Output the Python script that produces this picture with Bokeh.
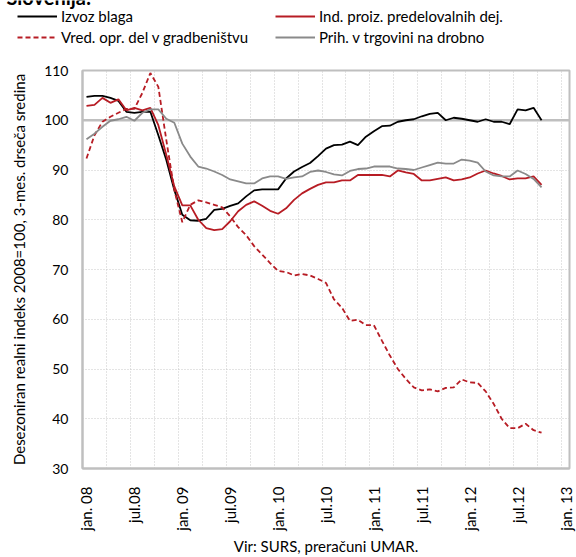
import math
from bokeh.plotting import figure
from bokeh.layouts import column
from bokeh.models import Range1d, FixedTicker, Legend, LegendItem, Span, ColumnDataSource, Label
from bokeh.embed import file_html
from bokeh.resources import INLINE

# ---------------- data ----------------
months = ["jan. 08", "feb.08", "mar.08", "apr.08", "maj.08", "jun.08", "jul.08", "avg.08", "sep.08", "okt.08", "nov.08", "dec.08",
          "jan. 09", "feb.09", "mar.09", "apr.09", "maj.09", "jun.09", "jul.09", "avg.09", "sep.09", "okt.09", "nov.09", "dec.09",
          "jan. 10", "feb.10", "mar.10", "apr.10", "maj.10", "jun.10", "jul.10", "avg.10", "sep.10", "okt.10", "nov.10", "dec.10",
          "jan. 11", "feb.11", "mar.11", "apr.11", "maj.11", "jun.11", "jul.11", "avg.11", "sep.11", "okt.11", "nov.11", "dec.11",
          "jan. 12", "feb.12", "mar.12", "apr.12", "maj.12", "jun.12", "jul.12", "avg.12", "sep.12", "okt.12"]

izvoz_blaga = [104.7, 104.9, 104.9, 104.5, 103.9, 101.7, 101.5, 101.7, 101.7, 97.0,
               92.0, 86.0, 81.0, 79.9, 79.8, 80.2, 82.0, 82.2, 82.8, 83.3,
               84.7, 85.9, 86.1, 86.1, 86.1, 88.3, 89.7, 90.6, 91.4, 92.8,
               94.3, 95.0, 95.1, 95.7, 95.0, 96.7, 97.8, 98.8, 98.9, 99.7,
               100.0, 100.2, 100.8, 101.3, 101.5, 100.0, 100.5, 100.3, 100.0, 99.7,
               100.2, 99.7, 99.7, 99.2, 102.2, 102.0, 102.5, 100.0]

ind_proiz = [102.9, 103.1, 104.5, 103.5, 104.2, 102.0, 102.5, 102.0, 102.5, 99.0,
             93.0, 86.7, 82.9, 82.9, 80.0, 78.3, 77.9, 78.1, 79.7, 81.7,
             83.0, 83.7, 82.8, 81.8, 81.2, 82.3, 84.0, 85.3, 86.2, 87.0,
             87.5, 87.5, 87.9, 87.9, 89.0, 89.0, 89.0, 89.0, 88.7, 89.9,
             89.5, 89.2, 87.9, 87.9, 88.2, 88.5, 87.9, 88.1, 88.5, 89.3,
             89.9, 89.3, 88.8, 88.1, 88.3, 88.3, 88.7, 87.0]

vred_gradb = [92.3, 97.0, 99.7, 100.7, 101.5, 102.3, 102.3, 105.5, 109.5, 106.7,
              96.0, 86.0, 79.5, 83.0, 83.9, 83.5, 83.0, 82.5, 80.7, 78.5,
              76.9, 74.7, 73.0, 71.3, 69.7, 69.5, 68.8, 69.1, 68.8, 68.1,
              67.3, 64.0, 62.3, 59.7, 59.9, 58.8, 58.8, 55.7, 52.7, 50.0,
              48.0, 46.3, 45.7, 45.9, 45.5, 46.2, 46.3, 47.9, 47.3, 47.2,
              45.5, 43.0, 40.0, 38.1, 38.1, 39.0, 37.7, 37.2]

prih_trg = [96.2, 97.3, 98.7, 99.9, 100.2, 100.7, 99.9, 101.5, 102.2, 102.2,
            100.3, 99.5, 95.3, 92.7, 90.7, 90.3, 89.7, 89.0, 88.1, 87.7,
            87.3, 87.3, 88.3, 88.7, 88.7, 88.2, 88.5, 88.7, 89.6, 89.9,
            89.6, 89.1, 88.9, 89.8, 90.2, 90.3, 90.7, 90.7, 90.7, 90.3,
            90.2, 90.0, 90.5, 91.0, 91.5, 91.3, 91.3, 92.1, 91.9, 91.5,
            89.7, 88.9, 88.7, 88.7, 89.9, 89.2, 88.2, 86.5]

series_names = ["Izvoz blaga", "Ind. proiz. predelovalnih dej.",
                "Vred. opr. del v gradbeništvu", "Prih. v trgovini na drobno"]

x_tick_labels = ["jan. 08", "jul.08", "jan. 09", "jul.09", "jan. 10", "jul.10",
                 "jan. 11", "jul.11", "jan. 12", "jul.12", "jan. 13"]
y_ticks = [30, 40, 50, 60, 70, 80, 90, 100, 110]

title_text = "Slovenija:"
y_title = "Desezoniran realni indeks 2008=100, 3-mes. drseča sredina"
source_note = "Vir: SURS, preračuni UMAR."

# ---------------- styling ----------------
FONT = "Lato"
FS = "15px"
GRID = "#C8C8C8"
AXIS = "#BFBFBF"
RED = "#B71C24"
GRAY = "#8A8A8A"
styles = [dict(line_color="black", line_width=1.8),
          dict(line_color=RED, line_width=1.8),
          dict(line_color=RED, line_width=1.8, line_dash="5 3"),
          dict(line_color=GRAY, line_width=1.8)]

W, H = 576, 557
LH = 48                               # height of the legend strip on top
FL, FR, FT, FB = 82, 569, 70, 470     # frame edges in page pixels

# ---------------- legend strip ----------------
lf = figure(width=W, height=LH, output_backend="svg", toolbar_location=None,
            x_range=Range1d(0, W), y_range=Range1d(0, LH),
            x_axis_location=None, y_axis_location=None,
            min_border_left=0, min_border_right=0, min_border_top=0, min_border_bottom=0)
lf.frame_align = False
lf.grid.visible = False
lf.outline_line_color = None
lf.background_fill_color = "white"
lf.border_fill_color = "white"

# legend-sample renderers (no visible data: a single missing point each)
nan = float("nan")
dummy = [lf.line(x=[nan], y=[nan], **st) for st in styles]
item_pos = [(17, 16.7), (275, 16.7), (17, 38.3), (275, 38.3)]  # glyph start x, row centre y (from top)
for name, r, (gx, cy) in zip(series_names, dummy, item_pos):
    lg = Legend(items=[LegendItem(label=name, renderers=[r])],
                location=(gx, LH - (cy + 8)),
                glyph_width=40, glyph_height=16, label_height=16, label_standoff=4,
                padding=0, margin=0, spacing=0,
                border_line_alpha=0, background_fill_alpha=0,
                label_text_font=FONT, label_text_font_size=FS, label_text_color="black")
    lf.add_layout(lg, "center")

# chart title, only its lower edge is visible at the very top (as in the reference)
lf.add_layout(Label(x=6, y=LH + 4, x_units="screen", y_units="screen", text=title_text,
                    text_font=FONT, text_font_size="20px", text_font_style="bold",
                    text_color="black", text_baseline="middle", text_align="left"))

# ---------------- main chart ----------------
n_cat = 61  # jan.08 .. jan.13
idx = list(range(len(months)))
src = ColumnDataSource(dict(x=idx, a=izvoz_blaga, b=ind_proiz, c=vred_gradb, d=prih_trg))

p = figure(width=W, height=H - LH, output_backend="svg", toolbar_location=None,
           x_range=Range1d(-0.5, n_cat - 0.5), y_range=Range1d(30, 110),
           min_border_left=FL, min_border_right=W - FR, min_border_top=FT - LH, min_border_bottom=H - FB)
p.frame_align = False
p.background_fill_color = "white"
p.border_fill_color = "white"
p.outline_line_color = AXIS
p.outline_line_width = 2

p.xgrid.ticker = FixedTicker(ticks=[2.5 + 3 * k for k in range(20)])
p.ygrid.ticker = FixedTicker(ticks=[40, 50, 60, 70, 80, 90])
for g in (p.xgrid, p.ygrid):
    g.grid_line_color = GRID
    g.grid_line_dash = "1 2"
    g.grid_line_width = 1

p.add_layout(Span(location=100, dimension="width", line_color=AXIS, line_width=2.5, level="underlay"))

xa = p.xaxis[0]
xa.ticker = FixedTicker(ticks=[6 * k for k in range(len(x_tick_labels))])
xa.major_label_overrides = {6 * k: lab for k, lab in enumerate(x_tick_labels)}
xa.major_label_orientation = math.pi / 2
xa.major_tick_out = 0
xa.major_tick_in = 0
xa.minor_tick_out = 0
xa.minor_tick_in = 0
xa.major_label_standoff = 18
xa.axis_line_color = AXIS
xa.axis_line_width = 2
xa.major_label_text_font = FONT
xa.major_label_text_font_size = FS
xa.major_label_text_color = "black"
xa.axis_label = source_note
xa.axis_label_text_font = FONT
xa.axis_label_text_font_size = FS
xa.axis_label_text_font_style = "normal"
xa.axis_label_text_color = "black"
xa.axis_label_standoff = 3

ya = p.yaxis[0]
ya.ticker = FixedTicker(ticks=y_ticks)
ya.major_tick_out = 0
ya.major_tick_in = 0
ya.minor_tick_out = 0
ya.minor_tick_in = 0
ya.major_label_standoff = 14
ya.axis_line_color = AXIS
ya.axis_line_width = 2
ya.major_label_text_font = FONT
ya.major_label_text_font_size = "14px"
ya.major_label_text_color = "black"
ya.axis_label = y_title
ya.axis_label_text_font = FONT
ya.axis_label_text_font_size = FS
ya.axis_label_text_font_style = "normal"
ya.axis_label_text_color = "black"
ya.axis_label_standoff = 13

for col, st in zip(["a", "b", "c", "d"], styles):
    p.line("x", col, source=src, **st)

layout = column(lf, p, spacing=0)
open("out.html", "w").write(file_html(layout, INLINE))
